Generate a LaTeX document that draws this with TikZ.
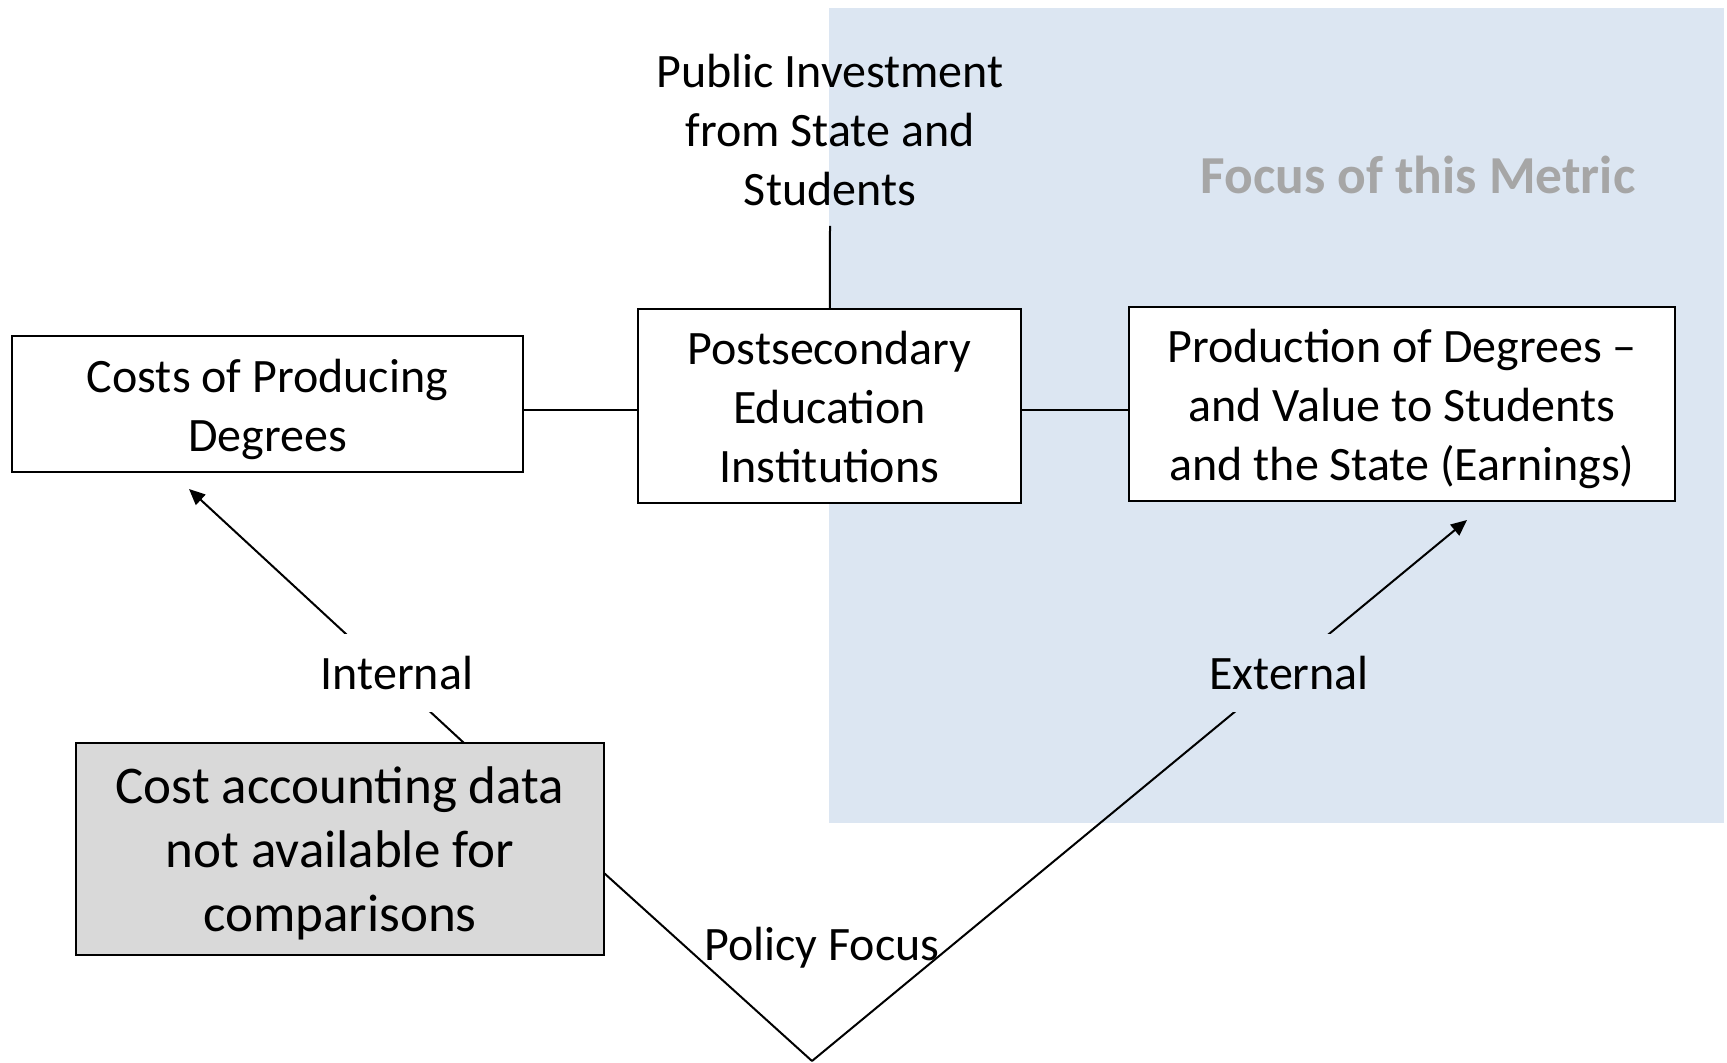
\documentclass[tikz,border=0pt]{standalone}
\usepackage{fontspec}
\setmainfont{Carlito}
\usetikzlibrary{arrows.meta,calc}
\definecolor{focusblue}{HTML}{DCE6F2}
\definecolor{acctgray}{HTML}{D9D9D9}
\definecolor{focusgray}{HTML}{A6A6A6}
\newcommand\tophold[1]{\rule{0pt}{#1}}
\newcommand\bothold[1]{\rule[-#1]{0pt}{#1}}
\begin{document}
\begin{tikzpicture}[x=0.5pt,y=-0.5pt,
  box/.style={draw=black,line width=1pt,fill=white,align=center,inner sep=0pt,font=\fontsize{24}{29.5}\selectfont},
  lbl/.style={align=center,inner sep=0pt,font=\fontsize{24}{29.5}\selectfont},
  gaplbl/.style={lbl,inner xsep=4pt,inner ysep=11pt},
  conn/.style={draw=black,line width=1pt},
  arr/.style={conn,-{Triangle[length=8pt,width=7pt]}}]
\useasboundingbox (0,0) rectangle (1727,1063);
% focus region
\fill[focusblue] (829,8) rectangle (1724,823);
\node[lbl,font=\bfseries\fontsize{26.7}{29}\selectfont,text=focusgray] (focus) at (1418,175) {Focus of this Metric};
% nodes
\node[lbl] (pub) at (830,130) {Public Investment\\from State and\\Students};
\coordinate (pubbot) at (830,226);
\node[box,minimum width=255.5pt,minimum height=68pt] (costs) at (267.5,404) {\tophold{24pt}Costs of Producing\\Degrees\bothold{6.2pt}};
\node[box,minimum width=191.5pt,minimum height=97pt] (post) at (829.5,406) {\tophold{24pt}Postsecondary\\Education\\Institutions\bothold{6.2pt}};
\node[box,minimum width=273pt,minimum height=97pt] (prod) at (1402,404) {\tophold{24pt}Production of Degrees --\\and Value to Students\\and the State (Earnings)\bothold{6.2pt}};
\node[box,fill=acctgray,minimum width=264pt,minimum height=106pt,font=\fontsize{26.5}{32}\selectfont] (acct) at (340,849) {\tophold{26.5pt}Cost accounting data\\not available for\\comparisons\bothold{8.4pt}};
% connectors top
\coordinate (hlevel) at (0,410);
\draw[conn] (pubbot) -- (post);
\draw[conn] (costs.east |- hlevel) -- (post.west |- hlevel);
\draw[conn] (post.east |- hlevel) -- (prod.west |- hlevel);
% internal arrow
\coordinate (i1) at (464,743);
\coordinate (i2) at (189,489);
\draw[arr] (i1) -- (i2);
\node[gaplbl,fill=white] (intl) at (397,673) {Internal};
% policy focus V and external arrow
\coordinate (e0) at (604,873);
\coordinate (v) at (812,1061);
\coordinate (e2) at (1467,520);
\draw[conn] (e0) -- (v);
\draw[arr] (v) -- (e2);
\node[gaplbl,fill=focusblue] (extl) at (1289,673) {External};
\node[lbl] (policy) at (822,948) {Policy Focus};
\end{tikzpicture}
\end{document}
